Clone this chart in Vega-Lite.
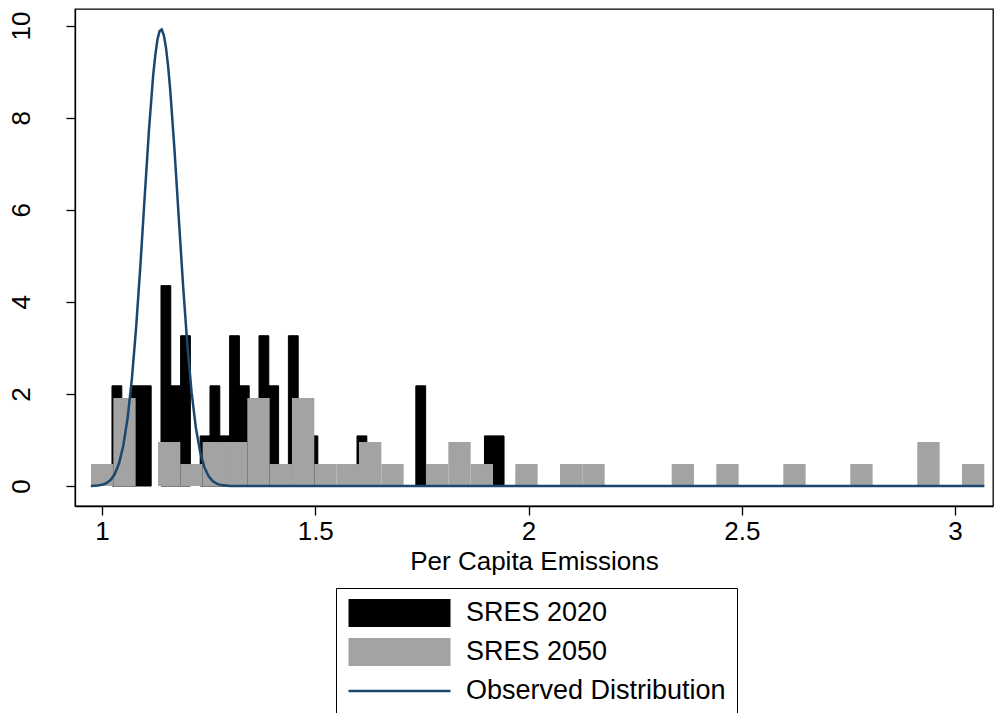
{
  "$schema": "https://vega.github.io/schema/vega-lite/v6.json",
  "width": 918,
  "height": 497,
  "autosize": {"type": "none"},
  "padding": {"left": 75, "top": 9, "right": 2, "bottom": 207},
  "background": "white",
  "config": {
    "font": "Liberation Sans",
    "view": {"stroke": "#000000", "strokeWidth": 1.3},
    "axis": {"grid": false, "domainColor": "#000000", "domainWidth": 1.3, "tickColor": "#000000", "tickWidth": 1.3, "tickSize": 9, "labelColor": "#000000", "titleColor": "#000000", "labelFont": "Liberation Sans", "titleFont": "Liberation Sans", "labelFontSize": 26, "titleFontSize": 26, "titleFontWeight": "normal"}
  },
  "datasets": {
    "bars": [
      {"series": "SRES 2020", "x0": 1.0234, "x1": 1.0464, "density": 2.176},
      {"series": "SRES 2020", "x0": 1.0464, "x1": 1.0694, "density": 1.088},
      {"series": "SRES 2020", "x0": 1.0694, "x1": 1.0923, "density": 2.176},
      {"series": "SRES 2020", "x0": 1.0923, "x1": 1.1153, "density": 2.176},
      {"series": "SRES 2020", "x0": 1.1383, "x1": 1.1613, "density": 4.352},
      {"series": "SRES 2020", "x0": 1.1613, "x1": 1.1843, "density": 2.176},
      {"series": "SRES 2020", "x0": 1.1843, "x1": 1.2072, "density": 3.264},
      {"series": "SRES 2020", "x0": 1.2302, "x1": 1.2532, "density": 1.088},
      {"series": "SRES 2020", "x0": 1.2532, "x1": 1.2762, "density": 2.176},
      {"series": "SRES 2020", "x0": 1.2762, "x1": 1.2992, "density": 1.088},
      {"series": "SRES 2020", "x0": 1.2992, "x1": 1.3221, "density": 3.264},
      {"series": "SRES 2020", "x0": 1.3221, "x1": 1.3451, "density": 2.176},
      {"series": "SRES 2020", "x0": 1.3451, "x1": 1.3681, "density": 1.088},
      {"series": "SRES 2020", "x0": 1.3681, "x1": 1.3911, "density": 3.264},
      {"series": "SRES 2020", "x0": 1.3911, "x1": 1.4141, "density": 2.176},
      {"series": "SRES 2020", "x0": 1.4370, "x1": 1.4600, "density": 3.264},
      {"series": "SRES 2020", "x0": 1.4830, "x1": 1.5060, "density": 1.088},
      {"series": "SRES 2020", "x0": 1.5979, "x1": 1.6209, "density": 1.088},
      {"series": "SRES 2020", "x0": 1.7358, "x1": 1.7588, "density": 2.176},
      {"series": "SRES 2020", "x0": 1.8967, "x1": 1.9196, "density": 1.088},
      {"series": "SRES 2020", "x0": 1.9196, "x1": 1.9426, "density": 1.088},
      {"series": "SRES 2050", "x0": 0.9742, "x1": 1.0266, "density": 0.4775},
      {"series": "SRES 2050", "x0": 1.0266, "x1": 1.0789, "density": 1.9099},
      {"series": "SRES 2050", "x0": 1.1313, "x1": 1.1836, "density": 0.9549},
      {"series": "SRES 2050", "x0": 1.1836, "x1": 1.2360, "density": 0.4775},
      {"series": "SRES 2050", "x0": 1.2360, "x1": 1.2884, "density": 0.9549},
      {"series": "SRES 2050", "x0": 1.2884, "x1": 1.3407, "density": 0.9549},
      {"series": "SRES 2050", "x0": 1.3407, "x1": 1.3931, "density": 1.9099},
      {"series": "SRES 2050", "x0": 1.3931, "x1": 1.4454, "density": 0.4775},
      {"series": "SRES 2050", "x0": 1.4454, "x1": 1.4978, "density": 1.9099},
      {"series": "SRES 2050", "x0": 1.4978, "x1": 1.5502, "density": 0.4775},
      {"series": "SRES 2050", "x0": 1.5502, "x1": 1.6025, "density": 0.4775},
      {"series": "SRES 2050", "x0": 1.6025, "x1": 1.6549, "density": 0.9549},
      {"series": "SRES 2050", "x0": 1.6549, "x1": 1.7072, "density": 0.4775},
      {"series": "SRES 2050", "x0": 1.7596, "x1": 1.8120, "density": 0.4775},
      {"series": "SRES 2050", "x0": 1.8120, "x1": 1.8643, "density": 0.9549},
      {"series": "SRES 2050", "x0": 1.8643, "x1": 1.9167, "density": 0.4775},
      {"series": "SRES 2050", "x0": 1.9690, "x1": 2.0214, "density": 0.4775},
      {"series": "SRES 2050", "x0": 2.0738, "x1": 2.1261, "density": 0.4775},
      {"series": "SRES 2050", "x0": 2.1261, "x1": 2.1785, "density": 0.4775},
      {"series": "SRES 2050", "x0": 2.3356, "x1": 2.3879, "density": 0.4775},
      {"series": "SRES 2050", "x0": 2.4403, "x1": 2.4926, "density": 0.4775},
      {"series": "SRES 2050", "x0": 2.5974, "x1": 2.6497, "density": 0.4775},
      {"series": "SRES 2050", "x0": 2.7544, "x1": 2.8068, "density": 0.4775},
      {"series": "SRES 2050", "x0": 2.9115, "x1": 2.9639, "density": 0.9549},
      {"series": "SRES 2050", "x0": 3.0162, "x1": 3.0686, "density": 0.4775}
    ],
    "curve": [
      {"x": 0.974, "density": 0.002},
      {"x": 0.99, "density": 0.011},
      {"x": 1.00, "density": 0.026},
      {"x": 1.01, "density": 0.060},
      {"x": 1.02, "density": 0.129},
      {"x": 1.03, "density": 0.260},
      {"x": 1.04, "density": 0.493},
      {"x": 1.05, "density": 0.880},
      {"x": 1.06, "density": 1.473},
      {"x": 1.07, "density": 2.322},
      {"x": 1.08, "density": 3.441},
      {"x": 1.09, "density": 4.790},
      {"x": 1.10, "density": 6.270},
      {"x": 1.11, "density": 7.715},
      {"x": 1.12, "density": 8.923},
      {"x": 1.125, "density": 9.36},
      {"x": 1.13, "density": 9.700},
      {"x": 1.135, "density": 9.88},
      {"x": 1.14, "density": 9.913},
      {"x": 1.145, "density": 9.79},
      {"x": 1.15, "density": 9.522},
      {"x": 1.155, "density": 9.12},
      {"x": 1.16, "density": 8.597},
      {"x": 1.17, "density": 7.298},
      {"x": 1.18, "density": 5.822},
      {"x": 1.19, "density": 4.367},
      {"x": 1.20, "density": 3.078},
      {"x": 1.21, "density": 2.039},
      {"x": 1.22, "density": 1.271},
      {"x": 1.23, "density": 0.744},
      {"x": 1.24, "density": 0.409},
      {"x": 1.25, "density": 0.212},
      {"x": 1.26, "density": 0.103},
      {"x": 1.27, "density": 0.047},
      {"x": 1.28, "density": 0.020},
      {"x": 1.30, "density": 0.003},
      {"x": 1.32, "density": 0.0},
      {"x": 1.5, "density": 0.0},
      {"x": 2.0, "density": 0.0},
      {"x": 2.5, "density": 0.0},
      {"x": 3.0686, "density": 0.0}
    ]
  },
  "layer": [
    {
      "data": {"name": "bars"},
      "transform": [{"filter": "datum.series === 'SRES 2020'"}],
      "mark": {"type": "bar", "color": "#000000", "stroke": "#000000", "strokeWidth": 1},
      "encoding": {
        "x": {"field": "x0", "type": "quantitative", "scale": {"domain": [0.9367, 3.089], "nice": false, "zero": false},
          "axis": {"values": [1, 1.5, 2, 2.5, 3], "format": "~g", "title": "Per Capita Emissions", "labelPadding": 3, "titlePadding": 4}},
        "x2": {"field": "x1"},
        "y": {"field": "density", "type": "quantitative", "scale": {"domain": [-0.434, 10.36], "nice": false, "zero": false},
          "axis": {"values": [0, 2, 4, 6, 8, 10], "title": null, "labelAngle": -90, "labelAlign": "center", "labelBaseline": "bottom", "labelPadding": 32}},
        "y2": {"datum": 0}
      }
    },
    {
      "data": {"name": "bars"},
      "transform": [{"filter": "datum.series === 'SRES 2050'"}],
      "mark": {"type": "bar"},
      "encoding": {
        "x": {"field": "x0", "type": "quantitative"},
        "x2": {"field": "x1"},
        "y": {"field": "density", "type": "quantitative"},
        "y2": {"datum": 0},
        "color": {"field": "series", "type": "nominal",
          "scale": {"domain": ["SRES 2020", "SRES 2050", "Observed Distribution"], "range": ["#000000", "#a3a3a3", "#1a476f"]},
          "legend": {
            "title": null, "orient": "none", "legendX": 261, "legendY": 579,
            "strokeColor": "#000000", "padding": 11,
            "symbolSize": 10404, "clipHeight": 28, "rowPadding": 11, "labelOffset": 14,
            "symbolStrokeWidth": 2.5,
            "symbolType": {"expr": "datum.value === 'Observed Distribution' ? 'M-1,0H1' : 'M-1,-0.275H1V0.275H-1Z'"},
            "symbolStrokeColor": {"expr": "datum.value === 'Observed Distribution' ? '#1a476f' : 'transparent'"},
            "labelFontSize": 27, "labelFont": "Liberation Sans", "labelColor": "#000000", "labelLimit": 400
          }}
      }
    },
    {
      "data": {"name": "curve"},
      "mark": {"type": "line", "strokeWidth": 2.5, "interpolate": "linear", "stroke": "#1a476f"},
      "encoding": {
        "x": {"field": "x", "type": "quantitative"},
        "y": {"field": "density", "type": "quantitative"}
      }
    }
  ]
}
